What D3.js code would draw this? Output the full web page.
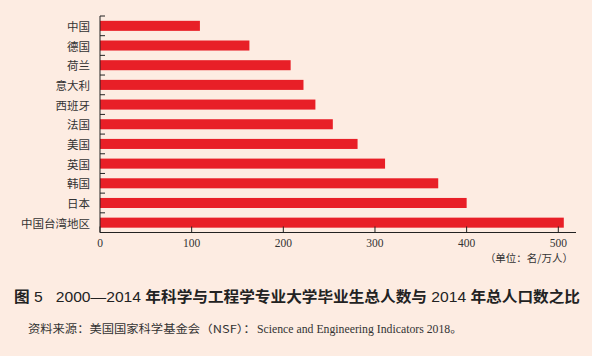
<!DOCTYPE html>
<html><head><meta charset="utf-8">
<script src="https://cdn.jsdelivr.net/npm/d3@7"></script>
<style>
html,body{margin:0;padding:0;background:#fdece2;}
svg{display:block;}
</style></head>
<body>
<svg id="chart" width="592" height="356"></svg>
<script>
const categories = ["中国","德国","荷兰","意大利","西班牙","法国","美国","英国","韩国","日本","中国台湾地区"];
const values = [109, 163, 208, 222, 235, 254, 281, 311, 369, 400, 506];
const xTicks = [0, 100, 200, 300, 400, 500];
const unitLabel = "（单位：名/万人）";
const titleParts = [
  {t:"图", b:true}, {t:" 5   2000—2014 ", b:false}, {t:"年科学与工程学专业大学毕业生总人数与", b:true},
  {t:" 2014 ", b:false}, {t:"年总人口数之比", b:true}
];
const sourceParts = [
  {t:"资料来源：美国国家科学基金会", x:28, w:172, cjk:true},
  {t:"（NSF）：", x:200, w:56, cjk:true},
  {t:"Science and Engineering Indicators 2018。", x:257, w:205, cjk:false}
];

const svg = d3.select("#chart");
svg.append("rect").attr("width",592).attr("height",356).attr("fill","#fdece2");

const x = d3.scaleLinear().domain([0,500]).range([100,558.3]);
const y = d3.scaleBand().domain(categories).range([16,232.5]).paddingInner(0.49).paddingOuter(0.245);

const serif = "'Liberation Serif','Noto Sans CJK SC',serif";

// bars
svg.append("g").selectAll("rect").data(categories).join("rect")
  .attr("x", x(0)).attr("y", d=>y(d))
  .attr("width", (d,i)=>x(values[i])-x(0))
  .attr("height", y.bandwidth())
  .attr("fill","#e81f27");

// y axis line + ticks at band boundaries
const yg = svg.append("g");
yg.append("line").attr("x1",100).attr("x2",100).attr("y1",16).attr("y2",232.5)
  .attr("stroke","#222").attr("stroke-width",1);
const step = y.step();
const bounds = d3.range(categories.length).map(i=>16 + i*step);
yg.selectAll("line.t").data(bounds).join("line").attr("class","t")
  .attr("x1",100).attr("x2",105).attr("y1",d=>d).attr("y2",d=>d)
  .attr("stroke","#222").attr("stroke-width",1);
yg.selectAll("text").data(categories).join("text")
  .attr("x",90).attr("y",d=>y(d)+y.bandwidth()/2)
  .attr("text-anchor","end").attr("dominant-baseline","central")
  .attr("font-family","'Noto Sans CJK SC',sans-serif").attr("font-size",11.5).attr("fill","#333")
  .text(d=>d);

// x axis
const xg = svg.append("g");
xg.append("line").attr("x1",100).attr("x2",576).attr("y1",232.5).attr("y2",232.5)
  .attr("stroke","#222").attr("stroke-width",1);
xg.selectAll("line.t").data(xTicks).join("line").attr("class","t")
  .attr("x1",d=>x(d)).attr("x2",d=>x(d)).attr("y1",232.5).attr("y2",226.5)
  .attr("stroke","#222").attr("stroke-width",1);
xg.selectAll("text").data(xTicks).join("text")
  .attr("x",d=>x(d)).attr("y",247)
  .attr("text-anchor","middle")
  .attr("font-family",serif).attr("font-size",11.5).attr("fill","#333")
  .text(d=>d);

svg.append("text").attr("x",573).attr("y",262).attr("text-anchor","end")
  .attr("font-family","'Noto Sans CJK SC',sans-serif").attr("font-size",10.5).attr("fill","#333")
  .text(unitLabel);

const tt = svg.append("text").attr("x",14).attr("y",302)
  .attr("font-size",15).attr("fill","#222")
  .attr("textLength",566).attr("lengthAdjust","spacingAndGlyphs")
  .attr("xml:space","preserve").style("white-space","pre");
tt.selectAll("tspan").data(titleParts).join("tspan")
  .attr("font-family",d=>d.b?"'Noto Sans CJK SC',sans-serif":"'Liberation Sans','Noto Sans CJK SC',sans-serif")
  .attr("font-weight",d=>d.b?"bold":"normal")
  .text(d=>d.t);

svg.append("g").selectAll("text").data(sourceParts).join("text")
  .attr("x",d=>d.x).attr("y",333)
  .attr("font-family",d=>d.cjk?"'Noto Sans CJK SC',sans-serif":serif)
  .attr("font-size",d=>d.cjk?11:11.5).attr("fill","#333")
  .attr("textLength",d=>d.w).attr("lengthAdjust","spacingAndGlyphs")
  .text(d=>d.t);
</script>
</body></html>
